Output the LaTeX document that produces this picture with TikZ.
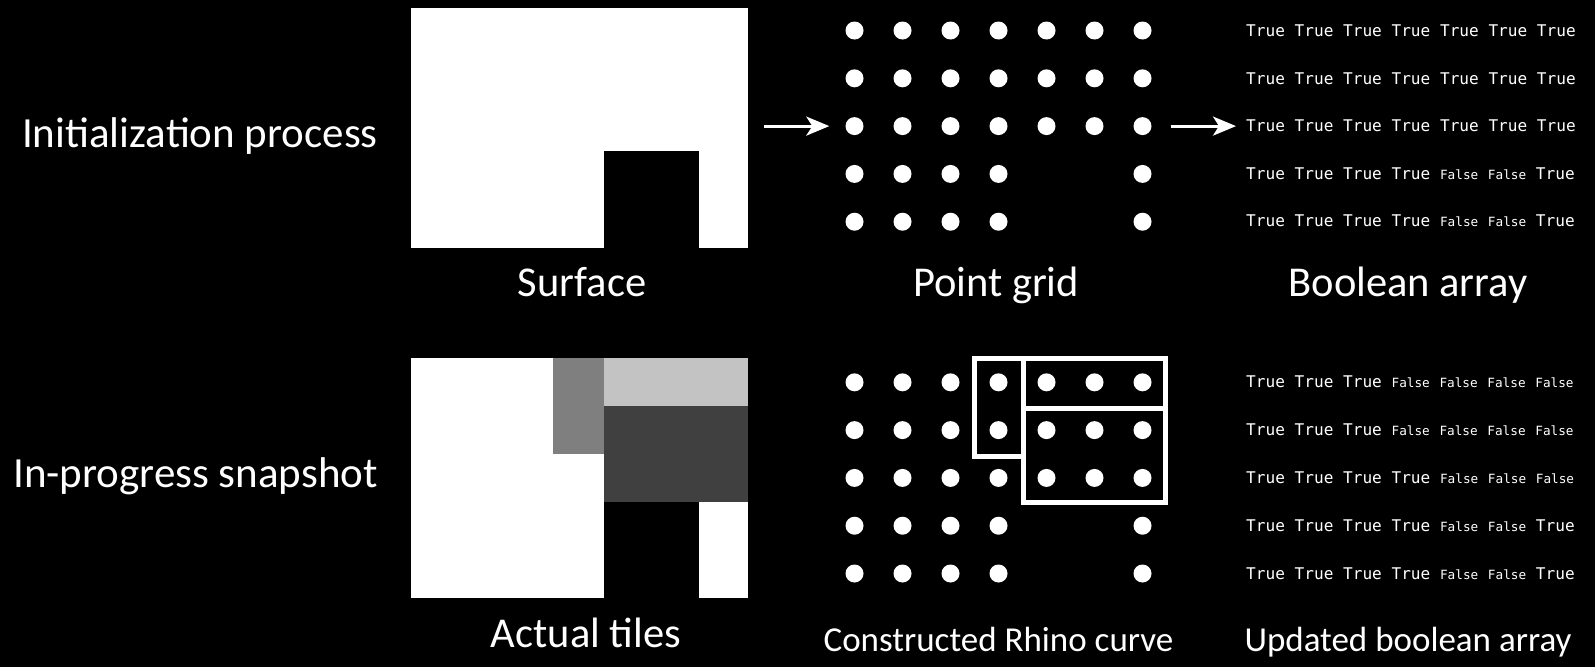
\documentclass[tikz,border=0pt]{standalone}
\usepackage{fontspec}
\setmainfont{Carlito}
\setmonofont{DejaVu Sans Mono}
\usetikzlibrary{arrows.meta}
\definecolor{tilemid}{HTML}{7F7F7F}
\definecolor{tilelight}{HTML}{C3C3C3}
\definecolor{tiledark}{HTML}{404040}
\newcommand{\fls}{{\fontsize{12.7}{14}\selectfont False}}

\begin{document}
\begin{tikzpicture}[x=1pt,y=-1pt,
  every node/.style={text=white,inner sep=0pt},
  dot/.style={circle,fill=white,minimum size=18pt},
  title/.style={font=\fontsize{43}{50}\selectfont,anchor=base east},
  caption/.style={font=\fontsize{42.5}{48}\selectfont,anchor=base},
  smallcap/.style={font=\fontsize{35}{42}\selectfont,anchor=base},
  boolrow/.style={font=\ttfamily\fontsize{16.1}{18}\selectfont,anchor=base west},
  flow/.style={white,line width=3pt,-{Stealth[length=23pt,width=19pt,inset=6pt]}},
  curve/.style={white,line width=5pt}]
\useasboundingbox (0,0) rectangle (1595,667);
\fill[black] (0,0) rectangle (1595,667);
% surface and tiled surface
\node[fill=white,minimum width=337pt,minimum height=240pt,anchor=north west] (surf) at (411,8) {};
\fill[black] (604,151) rectangle (699,248);
\node[fill=white,minimum width=337pt,minimum height=240pt,anchor=north west] (tiles) at (411,358) {};
\fill[tilemid] (553,358) rectangle (604,454);
\fill[tilelight] (604,358) rectangle (748,406);
\fill[tiledark] (604,406) rectangle (748,502);
\fill[black] (604,502) rectangle (699,598);
% point grids: t = initial, b = snapshot
\foreach \g/\yo in {t/30.5,b/382.3}{
  \foreach \r in {1,2,3}
    \foreach \c in {1,...,7}
      \node[dot] (\g-\r-\c) at ({854.5+48*(\c-1)},{\yo+47.8*(\r-1)}) {};
  \foreach \r in {4,5}
    \foreach \c in {1,2,3,4,7}
      \node[dot] (\g-\r-\c) at ({854.5+48*(\c-1)},{\yo+47.8*(\r-1)}) {};
}
% constructed curves
\draw[curve] (974,358.5) rectangle (1023.5,456.5);
\draw[curve] (1023.5,358.5) rectangle (1165,408.5);
\draw[curve] (1023.5,408.5) rectangle (1165,502.5);
% boolean arrays
\foreach \n/\y/\txt in {bt1/36.5/{True True True True True True True},
  bt2/84.1/{True True True True True True True},
  bt3/131.7/{True True True True True True True},
  bt4/179.3/{True True True True \fls{} \fls{} True},
  bt5/226.9/{True True True True \fls{} \fls{} True},
  bb1/387.3/{True True True \fls{} \fls{} \fls{} \fls},
  bb2/435.3/{True True True \fls{} \fls{} \fls{} \fls},
  bb3/483.3/{True True True True \fls{} \fls{} \fls},
  bb4/531.3/{True True True True \fls{} \fls{} True},
  bb5/579.3/{True True True True \fls{} \fls{} True}}
  \node[boolrow] (\n) at (1246,\y) {\txt};
% arrows
\draw[flow,shorten <=16pt,shorten >=16pt] (surf.east |- t-3-1) -- (t-3-1);
\draw[flow,shorten <=19pt,shorten >=10pt] (t-3-7) -- (t-3-7 -| bt3.west);
% labels
\node[title] (init) at (378,147.7) {Initialization process};
\node[title] (snap) at (378,487.7) {In-progress snapshot};
\node[caption] (lsurf) at (582,296.5) {Surface};
\node[caption] (lgrid) at (996,296) {Point grid};
\node[caption] (lbool) at (1408,296) {Boolean array};
\node[caption] (ltile) at (586,647.7) {Actual tiles};
\node[smallcap] (lcurve) at (998.5,651) {Constructed Rhino curve};
\node[smallcap] (lupd) at (1408,651) {Updated boolean array};
\end{tikzpicture}
\end{document}
